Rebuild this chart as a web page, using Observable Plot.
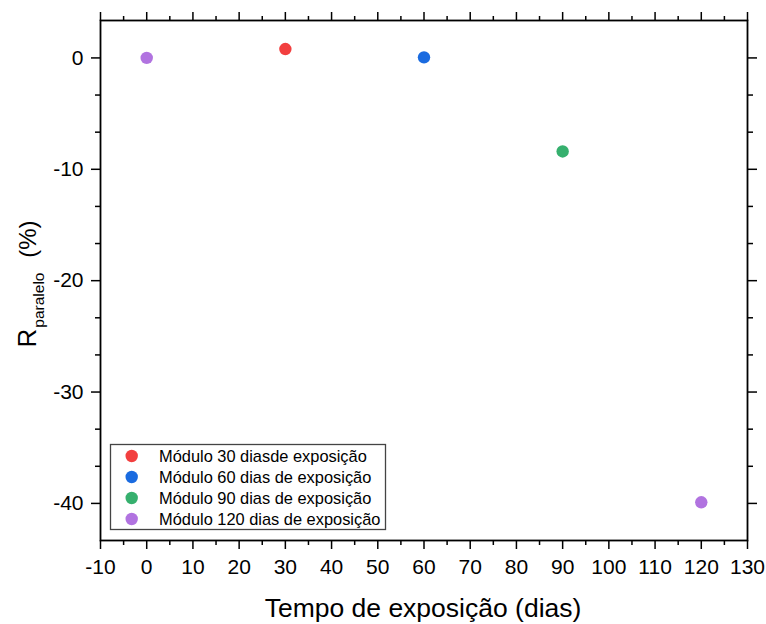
<!DOCTYPE html>
<html><head><meta charset="utf-8">
<script src="https://cdn.jsdelivr.net/npm/d3@7"></script>
<script src="https://cdn.jsdelivr.net/npm/@observablehq/plot@0.6"></script>
<style>body{margin:0;background:#fff}</style>
</head><body><div id="chart"></div>
<script>
// Data
const days = [0, 30, 60, 90, 120];
const rParalelo = [0, 0.8, 0.05, -8.4, -39.9];
const pointSeries = [
  "Módulo 120 dias de exposição",
  "Módulo 30 diasde exposição",
  "Módulo 60 dias de exposição",
  "Módulo 90 dias de exposição",
  "Módulo 120 dias de exposição"
];
const seriesLabels = [
  "Módulo 30 diasde exposição",
  "Módulo 60 dias de exposição",
  "Módulo 90 dias de exposição",
  "Módulo 120 dias de exposição"
];
const seriesColors = ["#F23F3F", "#1A6BE0", "#36B06E", "#B173E0"];
const xTicks = [-10, 0, 10, 20, 30, 40, 50, 60, 70, 80, 90, 100, 110, 120, 130];
const yTicks = [0, -10, -20, -30, -40];
const xTitle = "Tempo de exposição (dias)";

const yDomain = [-43.33, 3.36];
const xMinor = xTicks.slice(0, -1).map(v => v + 5);
const yMinor = [];
for (let i = 0; i < 5; i++) { yMinor.push(-10 * i - 10 / 3, -10 * i - 20 / 3); }
const yMinorIn = yMinor.filter(v => v > yDomain[0] + 0.01 && v < yDomain[1]);

const data = days.map((d, i) => ({day: d, r: rParalelo[i], series: pointSeries[i]}));

const W = 766, H = 624, mL = 100, mR = 19, mT = 20, mB = 84;
const font = "'Liberation Sans', Arial, sans-serif";
const noText = () => "";

const svg = Plot.plot({
  width: W, height: H,
  marginLeft: mL, marginRight: mR, marginTop: mT, marginBottom: mB,
  style: {fontFamily: font, color: "#000", background: "#fff"},
  x: {domain: [-10, 130]},
  y: {domain: yDomain},
  color: {domain: seriesLabels, range: seriesColors},
  marks: [
    Plot.axisX(xTicks, {anchor: "bottom", tickSize: 9, tickPadding: 10, fontSize: 21, strokeWidth: 1.5, tickFormat: d => String(d), label: null}),
    Plot.axisX(xMinor, {anchor: "bottom", tickSize: 5, strokeWidth: 1.5, fill: "none", tickFormat: noText, label: null}),
    Plot.axisX(xTicks, {anchor: "top", tickSize: 9, strokeWidth: 1.5, fill: "none", tickFormat: noText, label: null}),
    Plot.axisX(xMinor, {anchor: "top", tickSize: 5, strokeWidth: 1.5, fill: "none", tickFormat: noText, label: null}),
    Plot.axisY(yTicks, {anchor: "left", tickSize: 9, tickPadding: 8, fontSize: 21, strokeWidth: 1.5, tickFormat: d => String(d), label: null}),
    Plot.axisY(yMinorIn, {anchor: "left", tickSize: 5, strokeWidth: 1.5, fill: "none", tickFormat: noText, label: null}),
    Plot.axisY(yTicks, {anchor: "right", tickSize: 9, strokeWidth: 1.5, fill: "none", tickFormat: noText, label: null}),
    Plot.axisY(yMinorIn, {anchor: "right", tickSize: 5, strokeWidth: 1.5, fill: "none", tickFormat: noText, label: null}),
    Plot.frame({stroke: "#000", strokeWidth: 1.8}),
    Plot.dot(data, {x: "day", y: "r", fill: "series", r: 6.2, stroke: "none"})
  ]
});

const s = d3.select(svg);

// X title
s.append("text")
  .attr("x", 423).attr("y", 616.5)
  .attr("text-anchor", "middle")
  .attr("font-family", font).attr("font-size", 26.5).attr("fill", "#000")
  .text(xTitle);

// Y title with subscript
const yt = s.append("text")
  .attr("transform", "translate(35.7,284) rotate(-90)")
  .attr("text-anchor", "middle")
  .attr("font-family", font).attr("font-size", 24).attr("fill", "#000");
yt.append("tspan").attr("font-size", 26).text("R");
yt.append("tspan").attr("font-size", 15.5).attr("dy", 8).attr("dx", 1).text("paralelo");
yt.append("tspan").attr("dy", -8).attr("dx", 8).text(" (%)");

// Legend
const lg = s.append("g").attr("text-anchor", "start");
lg.append("rect")
  .attr("x", 110.5).attr("y", 444.5).attr("width", 275).attr("height", 85)
  .attr("fill", "#fff").attr("stroke", "#444").attr("stroke-width", 1.3);
seriesLabels.forEach((lab, i) => {
  const cy = 456 + i * 21;
  lg.append("circle").attr("cx", 131.7).attr("cy", cy).attr("r", 6.2).attr("fill", seriesColors[i]);
  lg.append("text").attr("x", 159).attr("y", cy + 6)
    .attr("text-anchor", "start")
    .attr("font-family", font).attr("font-size", 16.4).attr("fill", "#000")
    .text(lab);
});

document.getElementById("chart").appendChild(svg);
</script>
</body></html>
